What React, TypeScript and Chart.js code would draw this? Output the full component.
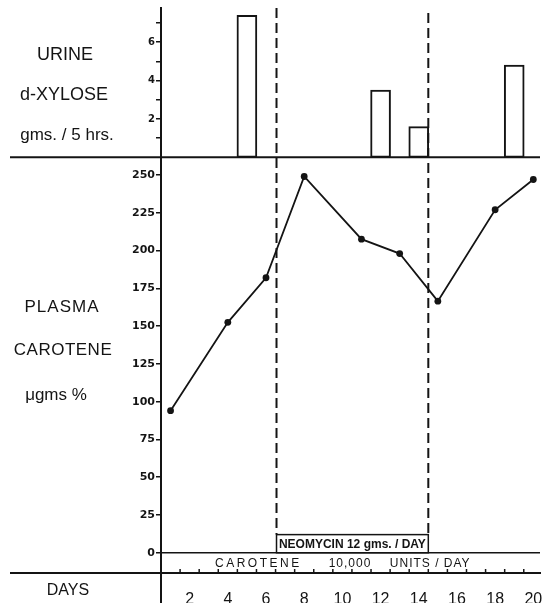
import React, { useEffect, useRef } from 'react';
import { Chart, registerables } from 'chart.js';

Chart.register(...registerables);

// ---- data ----
const caroteneDays = [1, 4, 6, 8, 11, 13, 15, 18, 20];
const caroteneValues = [94, 152.5, 182, 249, 207.5, 198, 166.5, 227, 247];
const xyloseDays = [5, 12, 14, 19];
const xyloseValues = [7.4, 3.5, 1.6, 4.8];
const caroteneTicks = [0, 25, 50, 75, 100, 125, 150, 175, 200, 225, 250];
const xyloseTicks = [1, 2, 3, 4, 5, 6, 7];
const xyloseTickLabels = [2, 4, 6];
const dayTicks = [1, 2, 3, 4, 5, 6, 7, 8, 9, 10, 11, 12, 13, 14, 15, 16, 17, 18, 19, 20];
const dayTickLabels = [2, 4, 6, 8, 10, 12, 14, 16, 18, 20];
const dayBoundaries = [1.5, 2.5, 3.5, 4.5, 5.5, 6.5, 7.5, 8.5, 9.5, 10.5, 11.5, 12.5, 13.5, 14.5, 15.5, 16.5, 17.5, 18.5, 19.5];
const neomycinPeriod = [6.55, 14.5];
const neomycinLabel = 'NEOMYCIN 12 gms. / DAY';
const caroteneDoseLabels = ['CAROTENE', '10,000', 'UNITS / DAY'];

const INK = '#141414';
const SANS = '"Liberation Sans", Arial, sans-serif';

const annotations = {
  id: 'annotations',
  afterDraw(chart: any) {
    const { ctx, chartArea, scales } = chart;
    const x = scales.x;
    const yT = scales.yTop;
    const yB = scales.yBot;
    const line = (x1: number, y1: number, x2: number, y2: number, w: number) => {
      ctx.lineWidth = w;
      ctx.beginPath();
      ctx.moveTo(x1, y1);
      ctx.lineTo(x2, y2);
      ctx.stroke();
    };
    ctx.save();
    ctx.strokeStyle = INK;
    ctx.fillStyle = INK;

    // divider between panels
    line(10, yT.bottom, chartArea.right, yT.bottom, 2);
    // days line
    line(10, chartArea.bottom, chartArea.right, chartArea.bottom, 2);
    // y axis continuing through the days row
    line(chartArea.left, chartArea.bottom, chartArea.left, chart.height, 2);
    // zero line of carotene
    const y0 = yB.getPixelForValue(0);
    line(chartArea.left, y0, chartArea.right, y0, 1.5);
    // day boundary ticks
    for (const d of dayBoundaries) {
      const px = x.getPixelForValue(d);
      line(px, chartArea.bottom - 4, px, chartArea.bottom, 1.5);
    }

    // neomycin box
    const xs = x.getPixelForValue(neomycinPeriod[0]);
    const xe = x.getPixelForValue(neomycinPeriod[1]);
    const yb = yB.getPixelForValue(12);
    ctx.lineWidth = 1.5;
    ctx.strokeRect(xs, yb, xe - xs, y0 - yb);
    ctx.font = 'bold 12px ' + SANS;
    ctx.textAlign = 'center';
    ctx.textBaseline = 'middle';
    ctx.fillText(neomycinLabel, (xs + xe) / 2, (yb + y0) / 2 + 1);

    // dashed lines
    ctx.setLineDash([10, 5]);
    line(xs, chartArea.top, xs, yb, 2);
    line(xe, chartArea.top + 5, xe, yb, 2);
    ctx.setLineDash([]);

    // carotene dose text
    const yd = (y0 + chartArea.bottom) / 2 + 1;
    ctx.font = '12px ' + SANS;
    (ctx as any).letterSpacing = '2.5px';
    ctx.fillText(caroteneDoseLabels[0], x.getPixelForValue(5.6), yd);
    (ctx as any).letterSpacing = '1px';
    ctx.fillText(caroteneDoseLabels[1], x.getPixelForValue(10.4), yd);
    ctx.fillText(caroteneDoseLabels[2], x.getPixelForValue(14.6), yd);
    (ctx as any).letterSpacing = '0px';

    // left-hand titles
    ctx.font = '18px ' + SANS;
    ctx.fillText('URINE', 65, 55);
    ctx.fillText('d-XYLOSE', 64, 95);
    ctx.font = '17px ' + SANS;
    ctx.fillText('gms. / 5 hrs.', 67, 135);
    (ctx as any).letterSpacing = '1px';
    ctx.fillText('PLASMA', 62, 307);
    (ctx as any).letterSpacing = '0.5px';
    ctx.fillText('CAROTENE', 63, 350);
    (ctx as any).letterSpacing = '0px';
    ctx.fillText('μgms %', 56, 395);
    ctx.font = '16px ' + SANS;
    ctx.fillText('DAYS', 68, 591);
    ctx.restore();
  },
};

export default function App() {
  const ref = useRef<HTMLCanvasElement>(null);
  useEffect(() => {
    if (!ref.current) return;
    const chart = new Chart(ref.current, {
      type: 'line',
      data: {
        datasets: [
          {
            type: 'line',
            label: 'Plasma carotene',
            data: caroteneDays.map((d, i) => ({ x: d, y: caroteneValues[i] })),
            yAxisID: 'yBot',
            borderColor: INK,
            backgroundColor: INK,
            borderWidth: 1.8,
            pointRadius: 3.4,
            pointBackgroundColor: INK,
            pointBorderWidth: 0,
            tension: 0,
          },
          {
            type: 'bar',
            label: 'Urine d-xylose',
            data: xyloseDays.map((d, i) => ({ x: d, y: xyloseValues[i] })),
            yAxisID: 'yTop',
            backgroundColor: '#ffffff',
            borderColor: INK,
            borderWidth: 2,
            borderSkipped: false,
            barThickness: 20,
          } as any,
        ],
      },
      plugins: [annotations],
      options: {
        animation: false,
        responsive: false,
        maintainAspectRatio: false,
        layout: { padding: { top: 8, right: 0, left: 0, bottom: 0 } },
        plugins: { legend: { display: false }, tooltip: { enabled: false } },
        scales: {
          x: {
            type: 'linear',
            min: 0.5,
            max: 20.35,
            offset: false,
            afterBuildTicks: (s: any) => {
              s.ticks = dayTicks.map((v) => ({ value: v }));
            },
            afterFit: (s: any) => {
              s.height = 30;
              s.paddingLeft = 0;
              s.paddingRight = 0;
            },
            grid: { display: false },
            border: { display: true, color: INK, width: 2 },
            ticks: {
              autoSkip: false,
              maxRotation: 0,
              padding: 9,
              color: INK,
              font: { family: SANS, size: 16 },
              callback: (v: any) => (dayTickLabels.includes(v) ? String(v) : ''),
            },
          },
          yBot: {
            type: 'linear',
            position: 'left',
            stack: 'panels',
            stackWeight: 415.7,
            min: -13.4,
            max: 261.7,
            afterBuildTicks: (s: any) => {
              s.ticks = caroteneTicks.map((v) => ({ value: v }));
            },
            afterFit: (s: any) => {
              s.width = 161;
              s.paddingTop = 0;
              s.paddingBottom = 0;
            },
            grid: { drawOnChartArea: false, tickLength: 5, color: INK, lineWidth: 1.5 },
            border: { display: true, color: INK, width: 2 },
            ticks: {
              autoSkip: false,
              padding: 1,
              color: INK,
              font: { family: '"DejaVu Sans", sans-serif', size: 11, weight: 'bold' },
            },
          },
          yTop: {
            type: 'linear',
            position: 'left',
            stack: 'panels',
            stackWeight: 149.3,
            min: 0,
            max: 7.78,
            afterBuildTicks: (s: any) => {
              s.ticks = xyloseTicks.map((v) => ({ value: v }));
            },
            afterFit: (s: any) => {
              s.width = 161;
              s.paddingTop = 0;
              s.paddingBottom = 0;
            },
            grid: { drawOnChartArea: false, tickLength: 5, color: INK, lineWidth: 1.5 },
            border: { display: true, color: INK, width: 2 },
            ticks: {
              autoSkip: false,
              padding: 1,
              color: INK,
              font: { family: '"DejaVu Sans", sans-serif', size: 10, weight: 'bold' },
              callback: (v: any) => (xyloseTickLabels.includes(v) ? String(v) : ''),
            },
          },
        },
      } as any,
    });
    return () => chart.destroy();
  }, []);
  return (
    <div style={{ position: 'fixed', left: 0, top: 0, width: 544, height: 603, background: '#fff' }}>
      <canvas ref={ref} width={544} height={603} style={{ display: 'block', width: 544, height: 603 }} />
    </div>
  );
}
